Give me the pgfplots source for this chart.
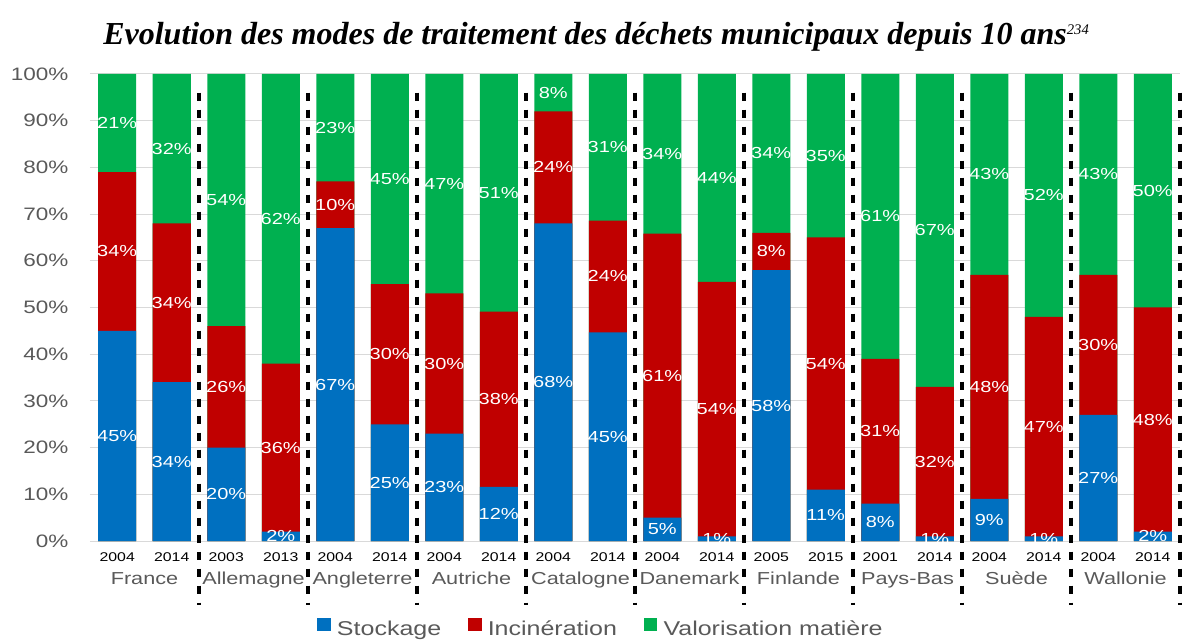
\documentclass[border=0pt]{standalone}
\usepackage{pgfplots}
\usepackage{pgfplotstable}
\pgfplotsset{compat=1.18}
\usepackage{fontspec}
\setmainfont{Liberation Sans}[FakeStretch=1.25]
\newfontfamily\titlefont{Liberation Serif}
\definecolor{cS}{HTML}{0070C0}
\definecolor{cI}{HTML}{C00000}
\definecolor{cV}{HTML}{00B050}
\definecolor{txt}{HTML}{595959}
\definecolor{grd}{HTML}{D9D9D9}

\pgfplotstableread{
x S I V LS LI LV
0 45 34 21 45 34 21
1 34 34 32 34 34 32
2 20 26 54 20 26 54
3 2 36 62 2 36 62
4 67 10 23 67 10 23
5 25 30 45 25 30 45
6 23 30 47 23 30 47
7 11.6 37.5 50.9 12 38 51
8 68 24 8 68 24 8
9 44.7 23.9 31.4 45 24 31
10 5 60.8 34.2 5 61 34
11 1 54.5 44.5 1 54 44
12 58 8 34 58 8 34
13 11 54 35 11 54 35
14 8 31 61 8 31 61
15 1 32 67 1 32 67
16 9 48 43 9 48 43
17 1 47 52 1 47 52
18 27 30 43 27 30 43
19 2 48 50 2 48 50
}\data

\pgfplotsset{
  seg/.style={ybar, bar width=28.5pt, bar shift=0pt, fill=#1, draw=none, forget plot},
  lab/.style={forget plot, draw=none, no marks, point meta=explicit symbolic,
    nodes near coords={\pgfplotspointmeta\%},
    nodes near coords style={anchor=center, text=white, inner sep=0pt, font=\fontsize{12}{12}\selectfont}},
  sq/.style={legend image code/.code={\fill[#1] (0pt,-0.5pt) rectangle (9.5pt,8pt); \path (12.5pt,0pt);}},
}

\begin{document}
\begin{tikzpicture}
\useasboundingbox (-67.5pt,-73.5pt) rectangle (820.5pt,405.75pt);
\begin{axis}[
  at={(0pt,0pt)}, anchor=south west,
  scale only axis, width=817.5pt, height=350.25pt,
  xmin=-0.5, xmax=19.5, ymin=0, ymax=100,
  clip=false,
  axis line style={draw=none},
  major tick length=0pt,
  ymajorgrids, grid style={grd, line width=0.75pt},
  ytick={0,10,...,100},
  yticklabel={\pgfmathprintnumber{\tick}\%},
  /pgf/number format/assume math mode=true,
  yticklabel style={anchor=east, inner sep=0pt, xshift=-16pt, text=txt, font=\fontsize{13.5}{14}\selectfont},
  xtick={0,...,19},
  xticklabels={2004,2014,2003,2013,2004,2014,2004,2014,2004,2014,2004,2014,2005,2015,2001,2014,2004,2014,2004,2014},
  xticklabel style={anchor=north, inner sep=0pt, yshift=-8.5pt, text=black, font=\fontsize{9.5}{10}\selectfont},
  legend columns=3,
  legend style={draw=none, fill=none, at={(0.469,-0.159)}, anchor=north,
     font=\fontsize{15}{16}\selectfont, text=txt,
     /tikz/every even column/.append style={column sep=18pt}},
]
% stacked segments drawn back to front (cumulative heights from the table)
\addplot[seg=cV] table[x=x, y expr=\thisrow{S}+\thisrow{I}+\thisrow{V}]{\data};
\addplot[seg=cI] table[x=x, y expr=\thisrow{S}+\thisrow{I}]{\data};
\addplot[seg=cS] table[x=x, y=S]{\data};
% segment labels at the middle of each segment
\addplot[lab] table[x=x, y expr=\thisrow{S}/2, meta=LS]{\data};
\addplot[lab] table[x=x, y expr=\thisrow{S}+\thisrow{I}/2, meta=LI]{\data};
\addplot[lab] table[x=x, y expr=\thisrow{S}+\thisrow{I}+\thisrow{V}/2, meta=LV]{\data};

\addlegendimage{sq=cS}
\addlegendentry{Stockage}
\addlegendimage{sq=cI}
\addlegendentry{Incinération}
\addlegendimage{sq=cV}
\addlegendentry{Valorisation matière}

\pgfplotsinvokeforeach{1.5,3.5,5.5,7.5,9.5,11.5,13.5,15.5,17.5,19.5}{
  \draw[black, line width=2.5pt, dash pattern=on 6pt off 6.75pt] (axis cs:#1,96) -- (axis cs:#1,-13.7);
}
\begin{scope}[every node/.style={anchor=base, text=txt, font=\fontsize{13}{14}\selectfont, inner sep=0pt}]
\node at ([yshift=-32.25pt]axis cs:0.5,0) {France};
\node at ([yshift=-32.25pt]axis cs:2.5,0) {Allemagne};
\node at ([yshift=-32.25pt]axis cs:4.5,0) {Angleterre};
\node at ([yshift=-32.25pt]axis cs:6.5,0) {Autriche};
\node at ([yshift=-32.25pt]axis cs:8.5,0) {Catalogne};
\node at ([yshift=-32.25pt]axis cs:10.5,0) {Danemark};
\node at ([yshift=-32.25pt]axis cs:12.5,0) {Finlande};
\node at ([yshift=-32.25pt]axis cs:14.5,0) {Pays-Bas};
\node at ([yshift=-32.25pt]axis cs:16.5,0) {Suède};
\node at ([yshift=-32.25pt]axis cs:18.5,0) {Wallonie};
\end{scope}
\end{axis}
\node[anchor=base west, inner sep=0pt, font=\titlefont\bfseries\itshape\fontsize{24}{28}\selectfont] at (9.75pt,372pt)
  {Evolution des modes de traitement des déchets municipaux depuis 10 ans\raisebox{7.5pt}{\fontsize{11}{11}\selectfont\mdseries 234}};
\end{tikzpicture}
\end{document}
